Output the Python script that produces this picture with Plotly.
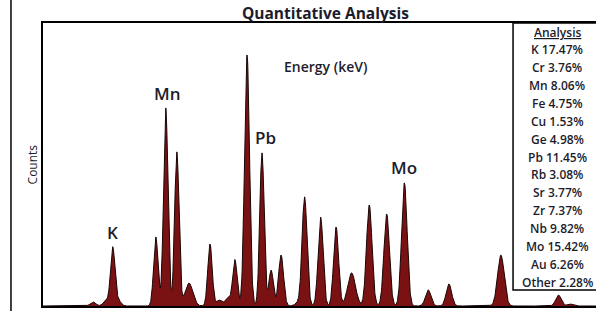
import numpy as np
import plotly.graph_objects as go

# Peak parameters (energy keV, relative counts, width keV)
peak_energy = [1.81, 2.28, 2.52, 2.71, 4.08, 4.44, 4.84, 5.28, 6.04, 6.37, 6.69, 6.94,
               7.38, 7.92, 8.25, 8.61, 9.22, 9.46, 10.04, 10.60, 11.16, 11.80, 12.43,
               13.07, 13.93, 14.68, 16.56, 18.64, 19.06]
peak_counts = [1.4, 1.8, 20.5, 2.1, 24.4, 70.0, 54.4, 8.1, 21.9, 2.1, 2.8, 16.3,
               88.7, 54.1, 12.7, 18.0, 1.1, 38.5, 31.4, 27.9, 11.7, 35.7, 32.5,
               43.5, 5.7, 7.8, 18.0, 3.9, 0.7]
peak_width = [0.10, 0.10, 0.08, 0.10, 0.08, 0.08, 0.08, 0.14, 0.08, 0.10, 0.10, 0.08,
              0.09, 0.08, 0.08, 0.09, 0.10, 0.09, 0.09, 0.09, 0.14, 0.10, 0.10,
              0.10, 0.10, 0.10, 0.12, 0.10, 0.10]

element_labels = ["K", "Mn", "Pb", "Mo"]
element_label_energy = [2.53, 4.47, 8.03, 13.07]
element_label_counts = [26.0, 75.1, 59.7, 49.1]

analysis_elements = ["K", "Cr", "Mn", "Fe", "Cu", "Ge", "Pb", "Rb", "Sr", "Zr", "Nb", "Mo", "Au", "Other"]
analysis_percent = [17.47, 3.76, 8.06, 4.75, 1.53, 4.98, 11.45, 3.08, 3.77, 7.37, 9.82, 15.42, 6.26, 2.28]

energy = np.linspace(0, 20, 2001)
counts = np.zeros_like(energy)
for e, c, w in zip(peak_energy, peak_counts, peak_width):
    counts += c * np.exp(-0.5 * ((energy - e) / w) ** 2)

W, H = 596, 311
ML, MT, MB = 43, 23, 5
PH = H - MT - MB
PW = W - ML

fig = go.Figure()
fig.add_trace(go.Scatter(
    x=energy, y=counts, mode="lines", fill="tozeroy",
    fillcolor="#7a1214", line=dict(color="#1a0505", width=1),
    hoverinfo="skip", showlegend=False,
))

font_family = "Open Sans, Lato, sans-serif"
text_color = "#1c1c2c"

for lab, xe, yc in zip(element_labels, element_label_energy, element_label_counts):
    fig.add_annotation(x=xe, y=yc, text=lab, showarrow=False, xref="x", yref="y",
                       xanchor="center", yanchor="middle",
                       font=dict(family=font_family, size=17, color=text_color, weight=600))

fig.add_annotation(x=0.51, y=0.845, xref="paper", yref="paper", text="Energy (keV)",
                   showarrow=False, xanchor="center", yanchor="middle",
                   font=dict(family=font_family, size=14, color=text_color, weight=600))
fig.add_annotation(x=-0.019, y=0.502, xref="paper", yref="paper", text="Counts", textangle=-90,
                   showarrow=False, xanchor="center", yanchor="middle",
                   font=dict(family=font_family, size=12, color=text_color))

# Analysis box
fig.add_shape(type="rect", xref="paper", yref="paper", x0=0.850, x1=1.05, y0=0.0565, y1=1.0,
              line=dict(color="black", width=1.5), fillcolor="white")
lines = ["<u>Analysis</u>"] + [f"{el} {p:.2f}%" for el, p in zip(analysis_elements, analysis_percent)]
for i, t in enumerate(lines):
    ypx = 32 if i == 0 else 49.5 + (i - 1) * 17.92
    ypaper = (H - MB - ypx) / PH
    fig.add_annotation(x=0.930, y=ypaper, xref="paper", yref="paper", text=t, showarrow=False,
                       xanchor="center", yanchor="middle", borderpad=0,
                       font=dict(family=font_family, size=12, color=text_color, weight=600))

# outer left border line of the figure
fig.add_shape(type="line", xref="paper", yref="paper", x0=-0.0579, x1=-0.0579, y0=-0.02, y1=1.09,
              line=dict(color="black", width=1.5))

fig.update_layout(
    width=W, height=H,
    margin=dict(l=ML, r=0, t=MT, b=MB),
    paper_bgcolor="white", plot_bgcolor="white",
    title=dict(text="<b>Quantitative Analysis</b>", x=0.546, xanchor="center", y=0.9566, yanchor="middle",
               font=dict(family=font_family, size=15.5, color=text_color)),
    xaxis=dict(range=[0, 20], showline=True, linecolor="black", linewidth=2, mirror=True,
               showticklabels=False, ticks="", showgrid=False, zeroline=False),
    yaxis=dict(range=[0, 100], showline=True, linecolor="black", linewidth=2,
               showticklabels=False, ticks="", showgrid=False, zeroline=False),
)

fig.write_html("out.html", config={"displayModeBar": False},
               post_script="document.body.style.margin='0';document.body.style.overflow='hidden';")
